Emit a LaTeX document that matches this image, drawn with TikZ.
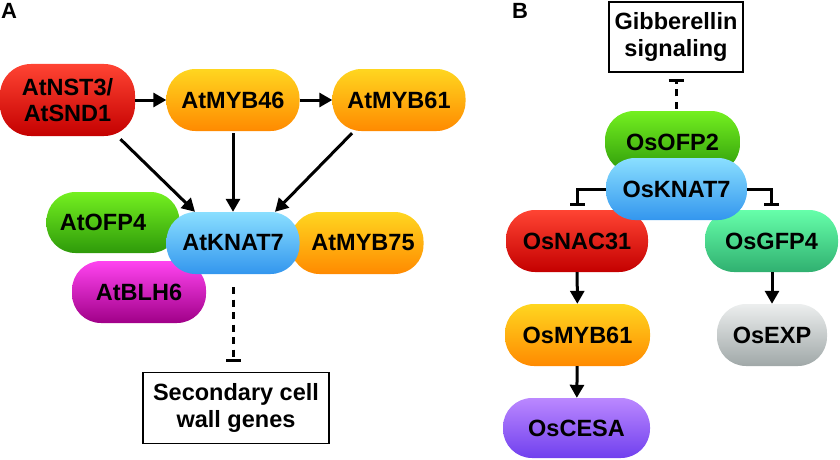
\documentclass[tikz,border=0pt]{standalone}
\usepackage{fontspec}
\setmainfont{Liberation Sans}
\usetikzlibrary{arrows.meta,calc}
\definecolor{redT}{HTML}{FF4433}\definecolor{redB}{HTML}{C40000}
\definecolor{orT}{HTML}{FFD620}\definecolor{orB}{HTML}{FF8A00}
\definecolor{grT}{HTML}{74F020}\definecolor{grB}{HTML}{2E9A0A}
\definecolor{blT}{HTML}{8ADFFF}\definecolor{blB}{HTML}{3396EE}
\definecolor{mgT}{HTML}{FF44F0}\definecolor{mgB}{HTML}{A00088}
\definecolor{tlT}{HTML}{66FFAA}\definecolor{tlB}{HTML}{30B070}
\definecolor{gyT}{HTML}{ECEEEE}\definecolor{gyB}{HTML}{A0A8A8}
\definecolor{puT}{HTML}{BB88FF}\definecolor{puB}{HTML}{7040EE}
\tikzset{
  pill/.style={rectangle, rounded corners=29pt, minimum height=62pt, inner sep=0pt,
    align=center, font=\fontsize{23.5}{26}\selectfont\bfseries},
  fred/.style={pill, top color=redT, bottom color=redB},
  fora/.style={pill, top color=orT, bottom color=orB},
  fgrn/.style={pill, top color=grT, bottom color=grB},
  fblu/.style={pill, top color=blT, bottom color=blB},
  fmag/.style={pill, top color=mgT, bottom color=mgB},
  ftel/.style={pill, top color=tlT, bottom color=tlB},
  fgry/.style={pill, top color=gyT, bottom color=gyB},
  fpur/.style={pill, top color=puT, bottom color=puB},
  genebox/.style={draw=black, line width=1.5pt, fill=white, align=center, inner sep=0pt,
    font=\fontsize{23.5}{27}\selectfont\bfseries},
  act/.style={line width=3pt, -{Triangle[length=13pt,width=14pt]}},
  inh/.style={line width=3pt, -{Bar[width=15pt,line width=3pt]}},
  dsh/.style={dash pattern=on 7pt off 5.5pt},
  panel/.style={font=\fontsize{22}{24}\selectfont\bfseries},
}
\begin{document}
\begin{tikzpicture}[x=1pt,y=-1pt]
\useasboundingbox (0,0) rectangle (840,460);
% panel labels
\node[panel] (labA) at (9,11) {A};
\node[panel] (labB) at (520,11) {B};
% ---------- Panel A ----------
\node[fred, minimum width=135pt, minimum height=72pt, rounded corners=31pt] (nst) at (67.5,100) {AtNST3/\\AtSND1};
\node[fora, minimum width=133pt] (m46) at (233,100) {AtMYB46};
\node[fora, minimum width=133pt] (m61) at (399,100) {AtMYB61};
\node[fgrn, minimum width=133pt, minimum height=61pt] (ofp4) at (113,222.5) {\hspace*{-4pt}AtOFP4\hspace*{16pt}};
\node[fora, minimum width=133pt] (m75) at (357,243) {\hspace*{12pt}AtMYB75};
\node[fmag, minimum width=134pt] (blh6) at (139,292) {AtBLH6};
\node[fblu, minimum width=133pt] (knat) at (233,243) {AtKNAT7};
\node[genebox, minimum width=186pt, minimum height=71pt] (sec) at (236,408) {Secondary cell\\wall genes};
\draw[act] (nst) -- (m46);
\draw[act] (m46) -- (m61);
\draw[act] ([xshift=53pt,yshift=-3pt]nst.south) -- ([xshift=-38pt]knat.north);
\draw[act, shorten <=2pt] (m46.south) -- (knat.north);
\draw[act] ([xshift=-47pt,yshift=-2pt]m61.south) -- ([xshift=42pt]knat.north);
\draw[inh, dsh, shorten <=13pt, shorten >=10pt] (knat.south) -- (knat.south |- sec.north);
% ---------- Panel B ----------
\node[genebox, minimum width=134pt, minimum height=70pt] (gib) at (676,37) {Gibberellin\\signaling};
\node[fgrn, minimum width=135pt] (ofp2) at (672.5,142) {OsOFP2};
\node[fred, minimum width=142pt] (nac) at (577,241) {OsNAC31};
\node[ftel, minimum width=133pt] (gfp) at (771.5,241) {OsGFP4};
\node[fblu, minimum width=141pt] (knat7) at (676.5,189) {OsKNAT7};
\node[fora, minimum width=145pt] (omyb) at (577.5,335) {OsMYB61};
\node[fgry, minimum width=110pt] (exp) at (772,335) {OsEXP};
\node[fpur, minimum width=147pt, minimum height=60pt] (cesa) at (576.5,428) {OsCESA};
\draw[inh, dsh, shorten <=2pt, shorten >=6pt] (ofp2.north -| gib.south) -- (gib.south);
\draw[inh, shorten >=4pt] (knat7.west) -| (nac.north);
\draw[inh, shorten >=4pt] (knat7.east) -| (gfp.north);
\draw[act] (nac) -- (omyb);
\draw[act] (omyb) -- (cesa);
\draw[act] (gfp.south -| exp.north) -- (exp.north);
\end{tikzpicture}
\end{document}
